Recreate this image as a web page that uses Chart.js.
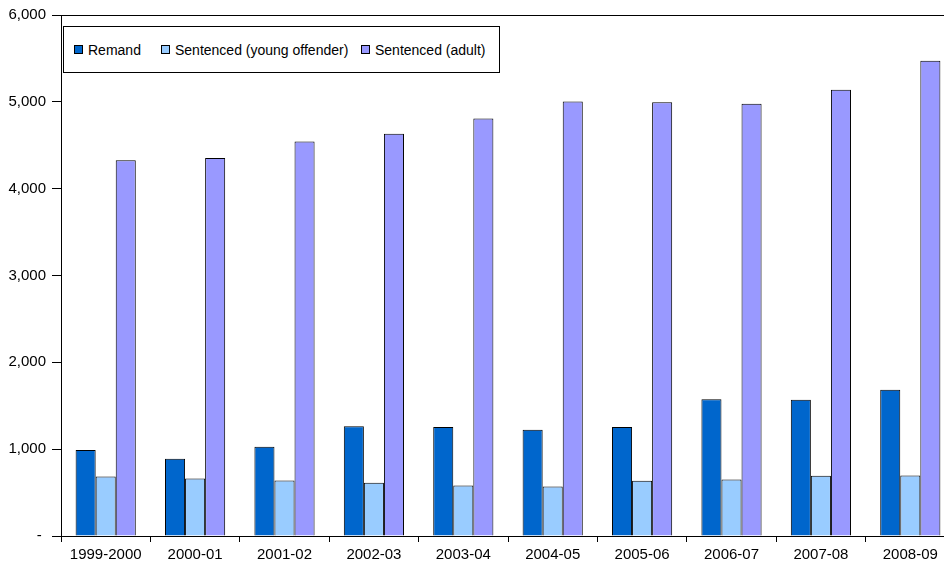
<!DOCTYPE html>
<html>
<head>
<meta charset="utf-8">
<script src="https://cdn.jsdelivr.net/npm/chart.js@4.4.1/dist/chart.umd.min.js"></script>
<style>
    html, body { margin: 0; padding: 0; background: #fff; overflow: hidden; }
    #wrap { position: relative; width: 944px; height: 565px; overflow: hidden; }
    #legend {
        position: absolute; left: 63px; top: 26px; width: 435px; height: 45px;
        border: 1px solid #000; background: #fff;
        font-family: "Liberation Sans", Arial, sans-serif; font-size: 14px; color: #000;
    }
    #legend .item { position: absolute; top: 0; height: 45px; display: flex; align-items: center; white-space: nowrap; }
    #legend .box { width: 7px; height: 7px; border: 1px solid #000; margin-right: 5px; }
</style>
</head>
<body>
<div id="wrap">
    <canvas id="chart" width="960" height="565"></canvas>
    <div id="legend"></div>
</div>
<script>
// Prisoner numbers by year
const years = ['1999-2000', '2000-01', '2001-02', '2002-03', '2003-04', '2004-05', '2005-06', '2006-07', '2007-08', '2008-09'];
const remand = [990, 889, 1028, 1263, 1255, 1224, 1255, 1574, 1570, 1685];
const sentencedYoung = [686, 663, 640, 612, 582, 570, 636, 652, 693, 698];
const sentencedAdult = [4327, 4354, 4542, 4631, 4807, 5003, 4995, 4977, 5138, 5473];
const yTicks = [0, 1000, 2000, 3000, 4000, 5000, 6000];

const seriesColors = ['#0066CC', '#99CCFF', '#9999FF'];
const font = "'Liberation Sans', Arial, sans-serif";

// Draw a frame round the plot area (Excel style)
const plotBorder = {
    id: 'plotBorder',
    afterDraw(chart) {
        const a = chart.chartArea;
        const c = chart.ctx;
        c.save();
        c.strokeStyle = '#000';
        c.lineWidth = 1;
        c.strokeRect(Math.round(a.left) + 0.5, Math.round(a.top) + 0.5, Math.round(a.right - a.left), Math.round(a.bottom - a.top));
        c.restore();
    }
};

const chart = new Chart(document.getElementById('chart'), {
    type: 'bar',
    data: {
        labels: years,
        datasets: [{
            label: 'Remand',
            data: remand,
            backgroundColor: seriesColors[0],
            borderColor: '#000',
            borderWidth: 1
        }, {
            label: 'Sentenced (young offender)',
            data: sentencedYoung,
            backgroundColor: seriesColors[1],
            borderColor: '#000',
            borderWidth: 1
        }, {
            label: 'Sentenced (adult)',
            data: sentencedAdult,
            backgroundColor: seriesColors[2],
            borderColor: '#000',
            borderWidth: 1
        }]
    },
    options: {
        responsive: false,
        animation: false,
        devicePixelRatio: 1,
        layout: {
            padding: { left: 8, top: 6, right: 5, bottom: 0 }
        },
        datasets: {
            bar: {
                categoryPercentage: 0.673,
                barPercentage: 1.0,
                inflateAmount: 0
            }
        },
        plugins: {
            legend: { display: false },
            tooltip: { enabled: false }
        },
        scales: {
            x: {
                afterFit: function(axis) { axis.height = 29; },
                grid: {
                    offset: true,
                    color: 'transparent',
                    tickColor: '#000',
                    tickLength: 6
                },
                border: { color: '#000' },
                ticks: {
                    color: '#000',
                    font: { family: font, size: 15 },
                    maxRotation: 0,
                    padding: 4
                }
            },
            y: {
                min: 0,
                max: 6000,
                afterFit: function(axis) { axis.width = 53; },
                afterBuildTicks: function(axis) {
                    axis.ticks = yTicks.map(v => ({ value: v }));
                },
                grid: {
                    color: 'transparent',
                    tickColor: '#000',
                    tickLength: 9
                },
                border: { color: '#000' },
                ticks: {
                    color: '#000',
                    font: { family: font, size: 15 },
                    padding: 6,
                    callback: function(value) {
                        return value === 0 ? '- ' : value.toLocaleString('en-US');
                    }
                }
            }
        }
    },
    plugins: [plotBorder]
});

// HTML legend built from the datasets
const legendLeft = [10, 97, 297];
const legendEl = document.getElementById('legend');
chart.data.datasets.forEach((ds, i) => {
    const item = document.createElement('div');
    item.className = 'item';
    item.style.left = legendLeft[i] + 'px';
    const box = document.createElement('span');
    box.className = 'box';
    box.style.background = ds.backgroundColor;
    const txt = document.createElement('span');
    txt.textContent = ds.label;
    item.appendChild(box);
    item.appendChild(txt);
    legendEl.appendChild(item);
});
</script>
</body>
</html>
